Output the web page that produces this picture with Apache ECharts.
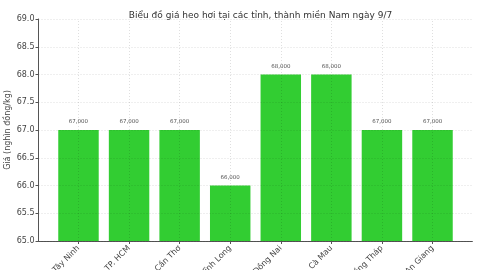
<!DOCTYPE html>
<html>
<head>
<meta charset="utf-8">
<script src="https://cdn.jsdelivr.net/npm/echarts@6/dist/echarts.min.js"></script>
<style>html,body{margin:0;padding:0;background:#fff}#c{width:480px;height:270px}</style>
</head>
<body>
<div id="c"></div>
<script>
const categories = ['Tây Ninh', 'TP. HCM', 'Cần Thơ', 'Vĩnh Long', 'Đồng Nai', 'Cà Mau', 'Đồng Tháp', 'An Giang'];
const prices = [67.0, 67.0, 67.0, 66.0, 68.0, 68.0, 67.0, 67.0];
const yMin = 65.0, yMax = 69.0, yStep = 0.5;
const title = 'Biểu đồ giá heo hơi tại các tỉnh, thành miền Nam ngày 9/7';
const yName = 'Giá (nghìn đồng/kg)';

const font = 'DejaVu Sans';
const chart = echarts.init(document.getElementById('c'), null, {renderer: 'canvas'});
const gridTop = 19, gridBottom = 29;
const gridLine = {color: 'rgba(0,0,0,0.16)', type: [1, 2], width: 0.8};
chart.setOption({
  animation: false,
  textStyle: {fontFamily: font},
  title: {
    text: title, left: 255.5, top: 6, textAlign: 'center',
    textStyle: {fontFamily: font, fontSize: 9, fontWeight: 'normal', color: '#333'}
  },
  grid: [
    {left: 38.5, right: 7.6, top: gridTop, bottom: gridBottom, outerBoundsMode: 'none', containLabel: false},
    {left: 53.2, right: 22.2, top: gridTop, bottom: gridBottom, outerBoundsMode: 'none', containLabel: false}
  ],
  xAxis: [
    {type: 'value', gridIndex: 0, min: 0, max: 1, axisLabel: {show: false}, axisTick: {show: false},
     splitLine: {show: false}, axisLine: {show: true, lineStyle: {color: '#555', width: 1}}},
    {type: 'category', gridIndex: 1, data: categories, boundaryGap: true, z: 3,
     axisLine: {show: false},
     axisTick: {show: true, alignWithLabel: true, length: 3, lineStyle: {color: '#555'}},
     axisLabel: {rotate: 45, fontSize: 8, color: '#444', margin: 6, fontFamily: font, interval: 0},
     splitLine: {show: false}}
  ],
  yAxis: [
    {type: 'value', gridIndex: 0, min: yMin, max: yMax, interval: yStep, z: 3,
     name: yName, nameLocation: 'middle', nameGap: 27, nameRotate: 90, nameMoveOverlap: false,
     nameTextStyle: {fontSize: 8, color: '#444', fontFamily: font},
     axisLine: {show: true, lineStyle: {color: '#555', width: 1}},
     axisTick: {show: true, length: 3, lineStyle: {color: '#555'}},
     axisLabel: {fontSize: 8, color: '#444', margin: 4, fontFamily: font, formatter: v => v.toFixed(1)},
     splitLine: {show: true, lineStyle: gridLine}},
    {type: 'value', gridIndex: 1, min: yMin, max: yMax, interval: yStep, show: false, splitLine: {show: false}}
  ],
  series: [{
    type: 'bar', xAxisIndex: 1, yAxisIndex: 1, data: prices, barWidth: '80%', clip: true,
    itemStyle: {color: '#32CD32'},
    label: {show: true, position: 'top', distance: 5, fontSize: 5.5, color: '#555', fontFamily: font,
      formatter: p => Math.round(p.value * 1000).toLocaleString('en-US')},
    markLine: {
      silent: true, symbol: ['none', 'none'], z: 3,
      label: {show: false},
      lineStyle: gridLine,
      data: categories.map(c => ({xAxis: c}))
    }
  }]
});
</script>
</body>
</html>
